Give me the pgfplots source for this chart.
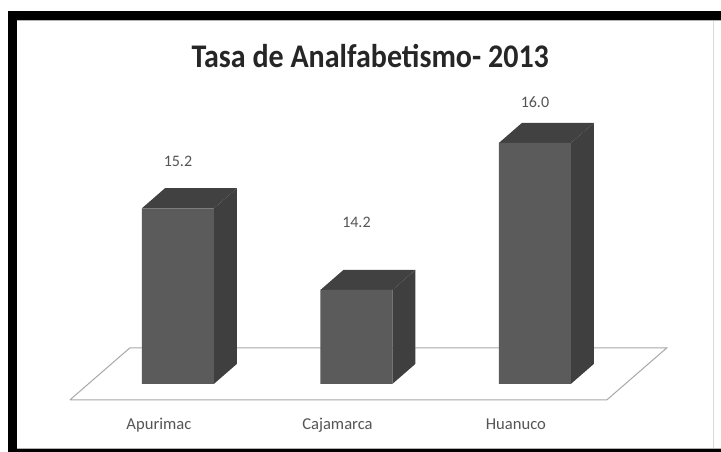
\documentclass[border=0pt]{standalone}
\usepackage{pgfplots}
\pgfplotsset{compat=1.18}
\usepackage{pgfplotstable}
\usepackage{fontspec}
\setmainfont{Carlito}

\definecolor{barfront}{HTML}{5B5B5B}
\definecolor{barside}{HTML}{3F3F3F}
\definecolor{bartop}{HTML}{414141}
\definecolor{floorline}{HTML}{A8A8A8}
\definecolor{labelgrey}{HTML}{555555}

% Rates per region: category position, rate, height of the value label
\pgfplotstableread{
x  v     ly
0  15.2  15.77
1  14.2  15.03
2  16.0  16.50
}\rates

\begin{document}
\begin{tikzpicture}[x=1pt,y=1pt]
  \path[use as bounding box] (0,0) rectangle (721,452);
  % frame of the slide
  \fill[black] (8,0) rectangle (721,441);
  \fill[white] (17,3) rectangle (721,432);
  \draw[black!30,line width=1.2pt] (17,431.4) -- (721,431.4);
  \draw[black!30,line width=1pt] (17,3.6) -- (721,3.6);
  \draw[black!14,line width=0.8pt] (713,4) -- (713,431);

  \begin{axis}[
    at={(18pt,42pt)}, anchor=south west,
    scale only axis, width=694pt, height=390pt,
    xmin=-0.896, xmax=2.992, ymin=12.73, ymax=17.505,
    y coord trafo/.code={\pgfmathparse{#1-13.05}},
    axis line style={draw=none},
    major tick length=0pt,
    ytick=\empty,
    xtick={0,1,2},
    xticklabels={Apurimac,Cajamarca,Huanuco},
    x tick label style={font=\fontsize{16.6}{18}\selectfont, text=labelgrey, xshift=-19pt, yshift=-5pt},
    title={Tasa de Analfabetismo- 2013},
    title style={at={(axis description cs:0.5075,0.893)}, anchor=center,
      font=\fontsize{33}{36}\selectfont\bfseries, text=black!85,
      xscale=0.91, transform shape},
    clip=false,
  ]
    % floor of the 3-D chart
    \addplot[draw=floorline, line width=1pt, fill=white] coordinates
      {(-0.605,12.854) (2.403,12.854) (2.739,13.491) (-0.269,13.491) (-0.605,12.854)};

    % Apurimac: side and top faces
    \addplot[fill=barside, draw=none] coordinates
      {(0.2017,13.05) (0.3306,13.295) (0.3306,15.445) (0.2017,15.2)};
    \addplot[fill=bartop, draw=none] coordinates
      {(-0.2017,15.2) (0.2017,15.2) (0.3306,15.445) (-0.0728,15.445)};
    % Cajamarca: side and top faces
    \addplot[fill=barside, draw=none] coordinates
      {(1.2017,13.05) (1.3306,13.295) (1.3306,14.445) (1.2017,14.2)};
    \addplot[fill=bartop, draw=none] coordinates
      {(0.7983,14.2) (1.2017,14.2) (1.3306,14.445) (0.9272,14.445)};
    % Huanuco: side and top faces
    \addplot[fill=barside, draw=none] coordinates
      {(2.2017,13.05) (2.3306,13.295) (2.3306,16.245) (2.2017,16.0)};
    \addplot[fill=bartop, draw=none] coordinates
      {(1.7983,16.0) (2.2017,16.0) (2.3306,16.245) (1.9272,16.245)};

    % front faces
    \addplot[ybar, bar width=72pt, bar shift=0pt, fill=barfront, draw=none]
      table[x=x, y=v] {\rates};

    % value labels
    \addplot[draw=none, mark=none, point meta=explicit,
      nodes near coords,
      every node near coord/.append style={anchor=center, yshift=0pt,
        font=\fontsize{16}{18}\selectfont, text=labelgrey,
        /pgf/number format/fixed, /pgf/number format/fixed zerofill,
        /pgf/number format/precision=1, /pgf/number format/assume math mode=true}]
      table[x=x, y=ly, meta=v] {\rates};
  \end{axis}
\end{tikzpicture}
\end{document}
